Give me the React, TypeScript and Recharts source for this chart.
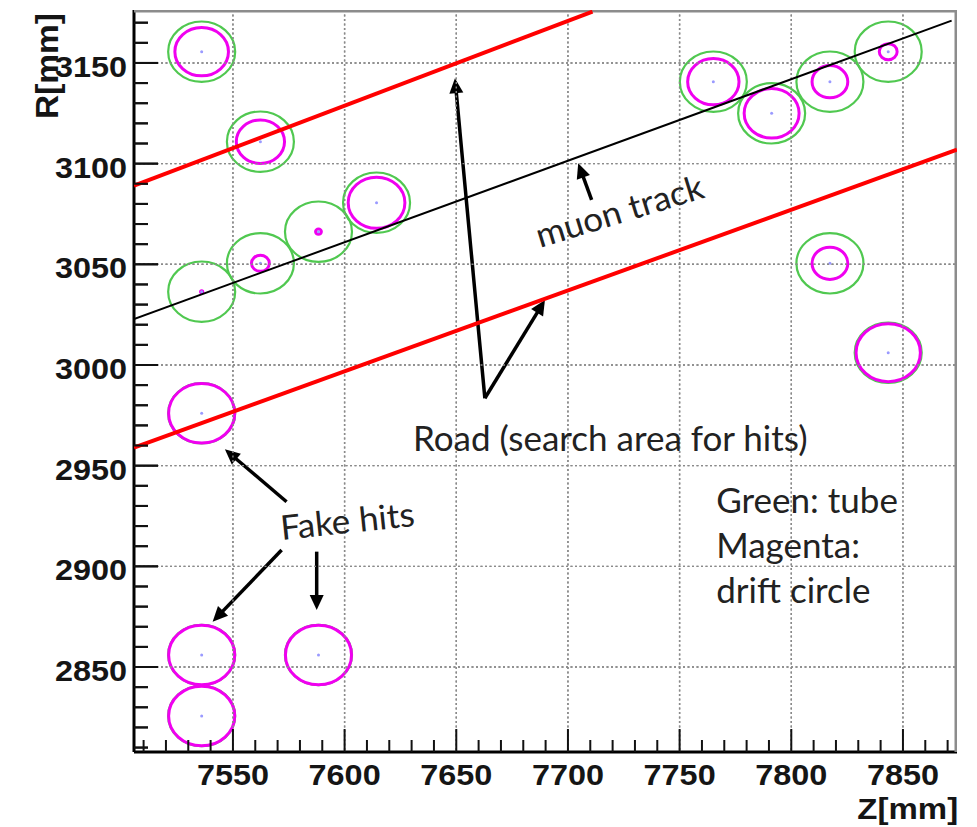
import React from 'react';
import { ScatterChart, Scatter, XAxis, YAxis, ReferenceLine, ReferenceDot, CartesianGrid } from 'recharts';

// ---- axis ranges ----
const XMIN = 7505.7;
const XMAX = 7874.2;
const YMIN = 2807.8;
const YMAX = 3176.3;

const X_MAJOR = [7550, 7600, 7650, 7700, 7750, 7800, 7850];
const Y_MAJOR = [2850, 2900, 2950, 3000, 3050, 3100, 3150];
const X_TICKS = [7510, 7520, 7530, 7540, 7550, 7560, 7570, 7580, 7590, 7600, 7610, 7620, 7630, 7640, 7650, 7660, 7670, 7680, 7690, 7700, 7710, 7720, 7730, 7740, 7750, 7760, 7770, 7780, 7790, 7800, 7810, 7820, 7830, 7840, 7850, 7860, 7870];
const Y_TICKS = [2810, 2820, 2830, 2840, 2850, 2860, 2870, 2880, 2890, 2900, 2910, 2920, 2930, 2940, 2950, 2960, 2970, 2980, 2990, 3000, 3010, 3020, 3030, 3040, 3050, 3060, 3070, 3080, 3090, 3100, 3110, 3120, 3130, 3140, 3150, 3160, 3170];
const X_LAST_TICK = 7870;
const Y_LAST_TICK = 3170;
const X_TITLE = 'Z[mm]';
const Y_TITLE = 'R[mm]';

// ---- tube hits (Z, R in mm; drift radius in mm) ----
const tubeZ = [7536.0, 7562.3, 7536.0, 7562.3, 7588.3, 7614.3, 7536.0, 7536.0, 7536.0, 7588.3, 7765.1, 7791.2, 7817.3, 7843.4, 7817.3, 7843.4];
const tubeR = [3155.6, 3110.9, 3036.4, 3050.5, 3066.2, 3080.6, 2976.0, 2856.0, 2825.7, 2856.0, 3140.7, 3125.0, 3140.7, 3155.6, 3050.5, 3006.1];
const driftRadius = [12.0, 10.8, 0.5, 4.0, 1.3, 12.7, 14.8, 14.8, 14.8, 14.8, 11.5, 12.3, 8.0, 4.0, 8.0, 14.4];
const TUBE_RADIUS = 15;

// ---- track and road lines ----
const trackZ = [7505.7, 7871.8];
const trackR = [3022.8, 3171.0];
const roadUpperZ = [7505.7, 7711.0];
const roadUpperR = [3089.1, 3175.5];
const roadLowerZ = [7505.7, 7874.2];
const roadLowerR = [2959.0, 3106.9];

// ---- annotations (data coordinates) ----
const arrowFrom = [[7710.6, 3082.0], [7662.8, 2983.5], [7662.8, 2983.5], [7574.0, 2932.1], [7571.8, 2908.1], [7587.5, 2907.3]];
const arrowTo = [[7704.6, 3100.2], [7649.4, 3142.4], [7689.7, 3032.3], [7546.4, 2958.1], [7540.9, 2872.5], [7587.5, 2878.3]];
const noteText = ['muon track', 'Road (search area for hits)', 'Fake hits', 'Green: tube', 'Magenta:', 'drift circle'];
const noteZ = [7687.5, 7630.6, 7571.8, 7766.4, 7766.4, 7766.4];
const noteR = [3058.1, 2957.4, 2913.1, 2926.5, 2904.2, 2881.8];
const noteAngle = [-17, 0, -6, 0, 0, 0];

// ---- layout ----
const CHART_W = 977;
const CHART_H = 827;
const MARGIN = { top: 10, right: 20, bottom: 0, left: 0 };
const Y_AXIS_W = 134;
const X_AXIS_H = 75;
const PLOT_W = CHART_W - MARGIN.left - MARGIN.right - Y_AXIS_W;
const PLOT_H = CHART_H - MARGIN.top - MARGIN.bottom - X_AXIS_H;
const SX = PLOT_W / (XMAX - XMIN);
const SY = PLOT_H / (YMAX - YMIN);

const tubes = tubeZ.map((z, i) => ({ x: z, y: tubeR[i], d: driftRadius[i] }));
const toPts = (zs: number[], rs: number[]) => zs.map((z, i) => ({ x: z, y: rs[i] }));
const yTickMarks = Y_TICKS.map((v) => ({ x: XMIN, y: v, major: Y_MAJOR.includes(v) }));

const AXIS_FONT = "'Liberation Sans', Arial, Helvetica, sans-serif";
const NOTE_FONT = "Lato, 'Open Sans', sans-serif";
const GRID_STROKE = '#8a8a8a';
const GRID_DASH = '2 2.5';

const XTick = (props: any) => {
  const x = Number(props.x);
  const y = Number(props.y);
  const v = Number(props.payload.value);
  const major = X_MAJOR.includes(v);
  return (
    <g>
      <line x1={x} y1={y} x2={x} y2={y - (major ? 23 : 12)} stroke="#111" strokeWidth={2} />
      {major && (
        <text transform={`translate(${x},${y + 33}) scale(1.08,1)`} textAnchor="middle" fontFamily={AXIS_FONT} fontWeight="bold" fontSize={30} fill="#151515">
          {v}
        </text>
      )}
      {v === X_LAST_TICK && (
        <text transform={`translate(${x + 10.5},${y + 67}) scale(1.1,1)`} textAnchor="end" fontFamily={AXIS_FONT} fontWeight="bold" fontSize={30} fill="#151515">
          {X_TITLE}
        </text>
      )}
    </g>
  );
};

const YTick = (props: any) => {
  const x = Number(props.x);
  const y = Number(props.y);
  const v = Number(props.payload.value);
  const major = Y_MAJOR.includes(v);
  return (
    <g>
      <line x1={x} y1={y} x2={x + (major ? 24 : 14)} y2={y} stroke="#111" strokeWidth={2} />
      {major && (
        <text transform={`translate(${x - 7},${y + 14}) scale(1.08,1)`} textAnchor="end" fontFamily={AXIS_FONT} fontWeight="bold" fontSize={30} fill="#151515">
          {v}
        </text>
      )}
      {v === Y_LAST_TICK && (
        <text transform={`translate(${x - 76},${y - 9.7}) rotate(-90) scale(1.08,1)`} textAnchor="end" fontFamily={AXIS_FONT} fontWeight="bold" fontSize={31} fill="#151515">
          {Y_TITLE}
        </text>
      )}
    </g>
  );
};

const YTickMark = (props: any) => (
  <line x1={props.cx} y1={props.cy} x2={props.cx + (props.payload.major ? 24 : 14)} y2={props.cy} stroke="#111" strokeWidth={2} />
);

const Arrow = (props: any) => {
  const x1 = Number(props.x1);
  const y1 = Number(props.y1);
  const x2 = Number(props.x2);
  const y2 = Number(props.y2);
  const dx = x2 - x1;
  const dy = y2 - y1;
  const len = Math.hypot(dx, dy) || 1;
  const ux = dx / len;
  const uy = dy / len;
  const hl = 15;
  const hw = 7;
  const bx = x2 - ux * hl;
  const by = y2 - uy * hl;
  return (
    <g>
      <line x1={x1} y1={y1} x2={bx + ux * 2} y2={by + uy * 2} stroke="#000" strokeWidth={3.5} />
      <polygon points={`${x2},${y2} ${bx - uy * hw},${by + ux * hw} ${bx + uy * hw},${by - ux * hw}`} fill="#000" />
    </g>
  );
};

const TubeShape = (props: any) => (
  <ellipse cx={props.cx} cy={props.cy} rx={TUBE_RADIUS * SX} ry={TUBE_RADIUS * SY} fill="none" stroke="#50c850" strokeWidth={2.2} />
);
const DriftShape = (props: any) => (
  <ellipse cx={props.cx} cy={props.cy} rx={props.payload.d * SX} ry={props.payload.d * SY} fill="none" stroke="#f000f0" strokeWidth={3} />
);
const CenterShape = (props: any) => <circle cx={props.cx} cy={props.cy} r={1.5} fill="#9a9aff" />;
const NoShape = () => <g />;

const GRID_LINE = { stroke: GRID_STROKE, strokeWidth: 1.4, strokeDasharray: GRID_DASH };
const FRAME_LINE = { stroke: '#8c8c8c', strokeWidth: 5 };

const scaleOf = (axis: any, v: number, lo: number, hi: number, start: number, size: number, invert: boolean) => {
  if (axis && typeof axis.scale === 'function') {
    const s = axis.scale(v);
    if (Number.isFinite(s)) return s;
  }
  const t = (v - lo) / (hi - lo);
  return invert ? start + (1 - t) * size : start + t * size;
};

const vGen = (p: any) =>
  X_MAJOR.map((v) => scaleOf(p.xAxis, v, XMIN, XMAX, p.offset ? p.offset.left : Y_AXIS_W, p.offset ? p.offset.width : PLOT_W, false));
const hGen = (p: any) =>
  Y_MAJOR.map((v) => scaleOf(p.yAxis, v, YMIN, YMAX, p.offset ? p.offset.top : MARGIN.top, p.offset ? p.offset.height : PLOT_H, true));

export default function App() {
  return (
    <div style={{ position: 'absolute', left: 0, top: 0 }}>
      <ScatterChart width={CHART_W} height={CHART_H} margin={MARGIN}>
        <CartesianGrid
          stroke={GRID_STROKE}
          strokeWidth={1.4}
          strokeDasharray={GRID_DASH}
          verticalCoordinatesGenerator={vGen}
          horizontalCoordinatesGenerator={hGen}
        />
        <XAxis
          type="number"
          dataKey="x"
          domain={[XMIN, XMAX]}
          allowDataOverflow
          ticks={X_TICKS}
          interval={0}
          height={X_AXIS_H}
          tickSize={0}
          tickMargin={0}
          tickLine={false}
          axisLine={{ stroke: '#000', strokeWidth: 3 }}
          tick={<XTick />}
        />
        <YAxis
          type="number"
          dataKey="y"
          domain={[YMIN, YMAX]}
          allowDataOverflow
          ticks={Y_TICKS}
          interval={0}
          width={Y_AXIS_W}
          tickSize={0}
          tickMargin={0}
          tickLine={false}
          axisLine={{ stroke: '#000', strokeWidth: 3 }}
          tick={<YTick />}
        />

        <Scatter data={tubes} shape={TubeShape} isAnimationActive={false} />
        <Scatter data={tubes} shape={DriftShape} isAnimationActive={false} />
        <Scatter data={tubes} shape={CenterShape} isAnimationActive={false} />

        {X_MAJOR.map((v) => (
          <Scatter key={'gx' + v} data={[{ x: v, y: YMAX }, { x: v, y: YMIN }]} line={GRID_LINE} shape={NoShape} isAnimationActive={false} />
        ))}
        {Y_MAJOR.map((v) => (
          <Scatter key={'gy' + v} data={[{ x: XMIN, y: v }, { x: XMAX, y: v }]} line={GRID_LINE} shape={NoShape} isAnimationActive={false} />
        ))}
        <Scatter data={[{ x: XMIN, y: YMAX }, { x: XMAX, y: YMAX }]} line={FRAME_LINE} shape={NoShape} isAnimationActive={false} />
        <Scatter data={[{ x: XMAX, y: YMAX }, { x: XMAX, y: YMIN }]} line={FRAME_LINE} shape={NoShape} isAnimationActive={false} />
        <Scatter data={yTickMarks} shape={YTickMark} isAnimationActive={false} />

        <Scatter data={toPts(trackZ, trackR)} line={{ stroke: '#000', strokeWidth: 2 }} shape={NoShape} isAnimationActive={false} />
        <Scatter data={toPts(roadUpperZ, roadUpperR)} line={{ stroke: '#ff0000', strokeWidth: 4 }} shape={NoShape} isAnimationActive={false} />
        <Scatter data={toPts(roadLowerZ, roadLowerR)} line={{ stroke: '#ff0000', strokeWidth: 4 }} shape={NoShape} isAnimationActive={false} />

        {arrowFrom.map((p, i) => (
          <ReferenceLine
            key={'ar' + i}
            segment={[{ x: p[0], y: p[1] }, { x: arrowTo[i][0], y: arrowTo[i][1] }]}
            ifOverflow="visible"
            stroke="#000"
            shape={Arrow}
          />
        ))}

        {noteText.map((t, i) => (
          <ReferenceDot
            key={'nt' + i}
            x={noteZ[i]}
            y={noteR[i]}
            r={0}
            ifOverflow="visible"
            shape={(p: any) => (
              <text
                transform={`translate(${p.cx},${p.cy}) rotate(${noteAngle[i]}) scale(1.03,1)`}
                fontFamily={NOTE_FONT}
                fontSize={34}
                fill="#222"
              >
                {t}
              </text>
            )}
          />
        ))}
      </ScatterChart>
    </div>
  );
}
